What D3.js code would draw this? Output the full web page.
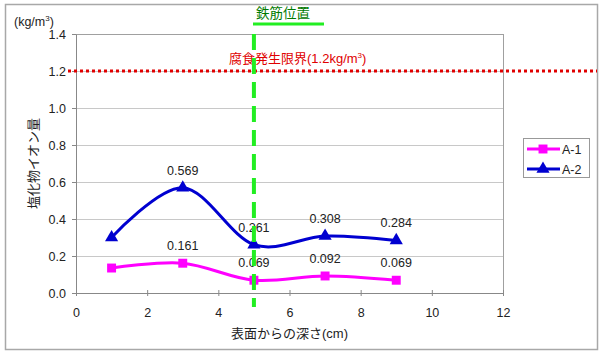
<!DOCTYPE html>
<html>
<head>
<meta charset="utf-8">
<script src="https://cdn.jsdelivr.net/npm/d3@7"></script>
<style>
  body { margin: 0; background: #fff; }
  text { font-family: "Liberation Sans", Arial, "Noto Sans CJK JP", sans-serif; }
  .jp { font-family: "Noto Sans CJK JP", sans-serif; }
</style>
</head>
<body>
<svg id="chart" width="605" height="355"></svg>
<script>
// data
var depths = [1, 3, 5, 7, 9];
var a1Values = [0.135, 0.161, 0.069, 0.092, 0.069];
var a2Values = [0.30, 0.569, 0.261, 0.308, 0.284];
var seriesNames = ["A-1", "A-2"];
var xTicks = [0, 2, 4, 6, 8, 10, 12];
var yTicks = [0, 0.2, 0.4, 0.6, 0.8, 1.0, 1.2, 1.4];
var rebarDepth = 5;
var limitValue = 1.2;

var margin = {top: 34, right: 102, bottom: 62, left: 76};
var width = 605 - margin.left - margin.right,
    height = 259;

var svg = d3.select("#chart");

// outer frame
svg.append("rect")
  .attr("x", 5.5).attr("y", 4.5)
  .attr("width", 592).attr("height", 345)
  .attr("fill", "#fff")
  .attr("stroke", "#a8a8a8")
  .attr("stroke-width", 1.5);

var g = svg.append("g").attr("transform", "translate(" + margin.left + "," + margin.top + ")");

var x = d3.scaleLinear().domain([0, 12]).range([0, width]);
var y = d3.scaleLinear().domain([0, 1.4]).range([height, 0]);

// grid
g.selectAll(".grid")
  .data(yTicks.slice(1))
  .enter().append("line")
    .attr("class", "grid")
    .attr("x1", 0).attr("x2", width)
    .attr("y1", function(d) { return y(d) + 0.5; })
    .attr("y2", function(d) { return y(d) + 0.5; })
    .attr("stroke", "#c8c8c8");

// plot box
g.append("rect")
  .attr("x", 0.5).attr("y", 0.5)
  .attr("width", width).attr("height", height)
  .attr("fill", "none")
  .attr("stroke", "#a0a0a0");

var xAxis = g.append("g")
  .attr("transform", "translate(0," + height + ")")
  .call(d3.axisBottom(x).tickValues(xTicks).tickSizeInner(3).tickSizeOuter(0).tickPadding(12));
var yAxis = g.append("g")
  .call(d3.axisLeft(y).tickValues(yTicks).tickFormat(d3.format(".1f")).tickSizeInner(4).tickSizeOuter(0).tickPadding(6));

[xAxis, yAxis].forEach(function(a) {
  a.select(".domain").attr("stroke", "#888");
  a.selectAll(".tick line").attr("stroke", "#888");
  a.selectAll("text").attr("font-size", 12.5).attr("fill", "#222")
    .attr("font-family", "Liberation Sans, Arial, sans-serif");
});
xAxis.selectAll(".tick line").attr("y1", -3);

// corrosion limit (red dotted)
svg.append("line")
  .attr("x1", 68).attr("x2", 597)
  .attr("y1", margin.top + y(limitValue)).attr("y2", margin.top + y(limitValue))
  .attr("stroke", "#e00000")
  .attr("stroke-width", 3)
  .attr("stroke-dasharray", "3,3");

var limitLabel = svg.append("text")
  .attr("x", 229).attr("y", margin.top + y(limitValue) - 8)
  .attr("fill", "#e00000")
  .attr("font-size", 13);
limitLabel.append("tspan").attr("class", "jp").text("腐食発生限界");
limitLabel.append("tspan").text("(1.2kg/m");
limitLabel.append("tspan").attr("font-size", 8).attr("dy", -5).text("3");
limitLabel.append("tspan").attr("dy", 5).text(")");

// rebar position (green dashed)
svg.append("line")
  .attr("x1", margin.left + x(rebarDepth)).attr("x2", margin.left + x(rebarDepth))
  .attr("y1", margin.top).attr("y2", 307)
  .attr("stroke", "#22ee22")
  .attr("stroke-width", 4)
  .attr("stroke-dasharray", "16,8");

svg.append("text")
  .attr("class", "jp")
  .attr("x", 256).attr("y", 18)
  .attr("fill", "#007a00")
  .attr("font-size", 13.5)
  .text("鉄筋位置");
svg.append("line")
  .attr("x1", 253).attr("x2", 324)
  .attr("y1", 24).attr("y2", 24)
  .attr("stroke", "#22ee22")
  .attr("stroke-width", 3);

// series
var series = [
  {name: seriesNames[0], values: a1Values, color: "#ff00ff", marker: d3.symbolSquare, size: 80},
  {name: seriesNames[1], values: a2Values, color: "#0000d0", marker: d3.symbolTriangle, size: 75}
];

var line = d3.line()
  .x(function(d) { return x(d[0]); })
  .y(function(d) { return y(d[1]); })
  .curve(d3.curveCardinal.tension(0));

series.forEach(function(s) {
  var pts = depths.map(function(d, i) { return [d, s.values[i]]; });
  g.append("path")
    .datum(pts)
    .attr("fill", "none")
    .attr("stroke", s.color)
    .attr("stroke-width", 3)
    .attr("d", line);
  g.selectAll(null)
    .data(pts)
    .enter().append("path")
      .attr("transform", function(d) { return "translate(" + x(d[0]) + "," + y(d[1]) + ")"; })
      .attr("d", d3.symbol().type(s.marker).size(s.size))
      .attr("fill", s.color);
  g.selectAll(null)
    .data(pts.slice(1))
    .enter().append("text")
      .attr("x", function(d) { return x(d[0]); })
      .attr("y", function(d) { return y(d[1]) - 13; })
      .attr("text-anchor", "middle")
      .attr("font-size", 12.5)
      .attr("fill", "#222")
      .text(function(d) { return d3.format(".3f")(d[1]); });
});

// unit label
var unit = svg.append("text").attr("x", 14).attr("y", 26).attr("font-size", 12.5).attr("fill", "#222");
unit.append("tspan").text("(kg/m");
unit.append("tspan").attr("font-size", 8).attr("dy", -5).text("3");
unit.append("tspan").attr("dy", 5).text(")");

// axis titles
svg.append("text")
  .attr("class", "jp")
  .attr("transform", "translate(38," + (margin.top + height / 2) + ") rotate(-90)")
  .attr("text-anchor", "middle")
  .attr("font-size", 13)
  .attr("fill", "#222")
  .text("塩化物イオン量");

var xTitle = svg.append("text")
  .attr("x", margin.left + width / 2).attr("y", 338)
  .attr("text-anchor", "middle")
  .attr("font-size", 13)
  .attr("fill", "#222");
xTitle.append("tspan").attr("class", "jp").text("表面からの深さ");
xTitle.append("tspan").text("(cm)");

// legend
var legend = svg.append("g").attr("transform", "translate(523,138)");
legend.append("rect")
  .attr("x", 0.5).attr("y", 0.5)
  .attr("width", 66).attr("height", 39)
  .attr("fill", "#fff")
  .attr("stroke", "#999");
var item = legend.selectAll(".item")
  .data(series)
  .enter().append("g")
    .attr("class", "item")
    .attr("transform", function(d, i) { return "translate(0," + (11 + i * 20) + ")"; });
item.append("line")
  .attr("x1", 4).attr("x2", 37)
  .attr("stroke", function(d) { return d.color; })
  .attr("stroke-width", 3);
item.append("path")
  .attr("transform", "translate(20,0)")
  .attr("d", function(d) { return d3.symbol().type(d.marker).size(d.size)(); })
  .attr("fill", function(d) { return d.color; });
item.append("text")
  .attr("x", 39).attr("y", 5)
  .attr("font-size", 12.5)
  .attr("fill", "#222")
  .text(function(d) { return d.name; });
</script>
</body>
</html>
